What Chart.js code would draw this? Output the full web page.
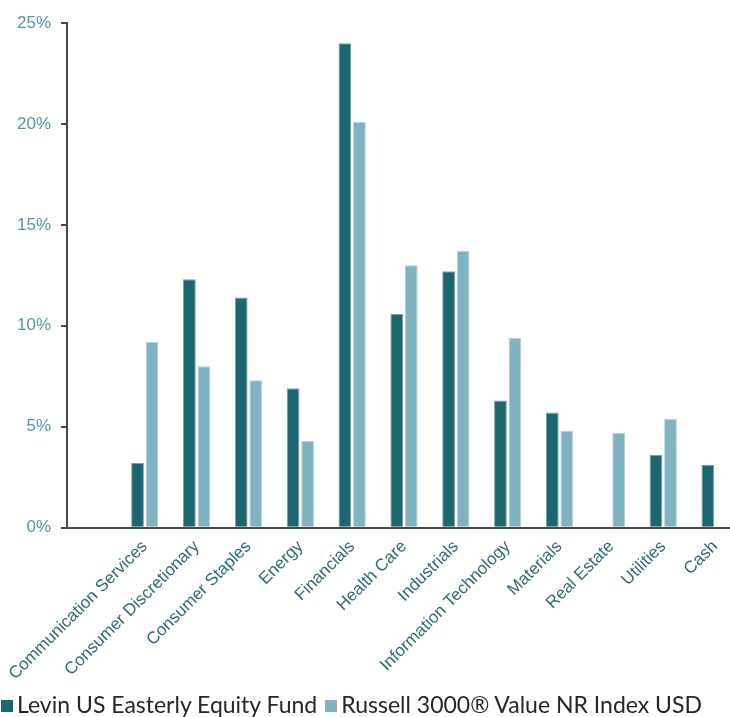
<!DOCTYPE html>
<html>
<head>
<meta charset="utf-8">
<script src="https://cdn.jsdelivr.net/npm/chart.js@4.4.1/dist/chart.umd.min.js"></script>
<style>
  html, body { margin: 0; padding: 0; background: #fff; overflow: hidden; width: 730px; height: 717px; }
  #wrap { position: absolute; left: 0; top: 0; width: 745px; height: 717px; }
  #legend { position: absolute; left: 1px; top: 690px; font-family: Lato, sans-serif; font-size: 23px; color: #262626; white-space: nowrap; }
  #legend span.box { display: inline-block; width: 12px; height: 12px; margin-right: 4px; vertical-align: 1px; }
  #legend span.item { margin-right: 8px; }
</style>
</head>
<body>
<div id="wrap"><canvas id="chart" width="745" height="717"></canvas></div>
<div id="legend"></div>
<script>
// sectors (first slot is left blank in the original)
const sectors = ['', 'Communication Services', 'Consumer Discretionary', 'Consumer Staples', 'Energy',
  'Financials', 'Health Care', 'Industrials', 'Information Technology', 'Materials',
  'Real Estate', 'Utilities', 'Cash'];
const fundWeights = [null, 3.2, 12.3, 11.4, 6.9, 24.0, 10.6, 12.7, 6.3, 5.7, null, 3.6, 3.1];
const indexWeights = [null, 9.2, 8.0, 7.3, 4.3, 20.1, 13.0, 13.7, 9.4, 4.8, 4.7, 5.4, null];
const yTicks = [0, 5, 10, 15, 20, 25];

const seriesNames = ['Levin US Easterly Equity Fund', 'Russell 3000\u00AE Value NR Index USD'];
const seriesColors = ['#1b6670', '#80b3c2'];

const chart = new Chart(document.getElementById('chart'), {
  type: 'bar',
  data: {
    labels: sectors,
    datasets: [
      { label: seriesNames[0], data: fundWeights, backgroundColor: seriesColors[0],
        borderColor: 'rgba(27,102,112,0.6)', borderWidth: 1 },
      { label: seriesNames[1], data: indexWeights, backgroundColor: seriesColors[1],
        borderColor: 'rgba(128,179,194,0.6)', borderWidth: 1 }
    ]
  },
  options: {
    responsive: false,
    animation: false,
    layout: { padding: { top: 23, right: 4, bottom: 32, left: 7 } },
    datasets: { bar: { categoryPercentage: 0.56, barPercentage: 0.88 } },
    plugins: { legend: { display: false }, tooltip: { enabled: false } },
    scales: {
      x: {
        grid: { display: false },
        border: { display: true, color: '#4a4a4a', width: 2 },
        ticks: {
          minRotation: 45, maxRotation: 45, autoSkip: false, padding: 1,
          color: '#2a6c77',
          font: { family: 'Arial, "Liberation Sans", sans-serif', size: 17 }
        }
      },
      y: {
        min: 0, max: 25,
        afterBuildTicks: (axis) => { axis.ticks = yTicks.map(v => ({ value: v })); },
        grid: { drawOnChartArea: false, drawTicks: true, tickLength: 6, color: '#4a4a4a', lineWidth: 2 },
        border: { display: true, color: '#4a4a4a', width: 2 },
        ticks: {
          padding: 10, color: '#4f97a9',
          font: { family: 'Arial, "Liberation Sans", sans-serif', size: 17 },
          callback: (v) => v + '%'
        }
      }
    }
  }
});

// legend as in the original: square + name, left aligned under the plot
const legend = document.getElementById('legend');
seriesNames.forEach((name, i) => {
  const item = document.createElement('span');
  item.className = 'item';
  item.innerHTML = '<span class="box" style="background:' + seriesColors[i] + '"></span>' + name;
  legend.appendChild(item);
});
</script>
</body>
</html>
